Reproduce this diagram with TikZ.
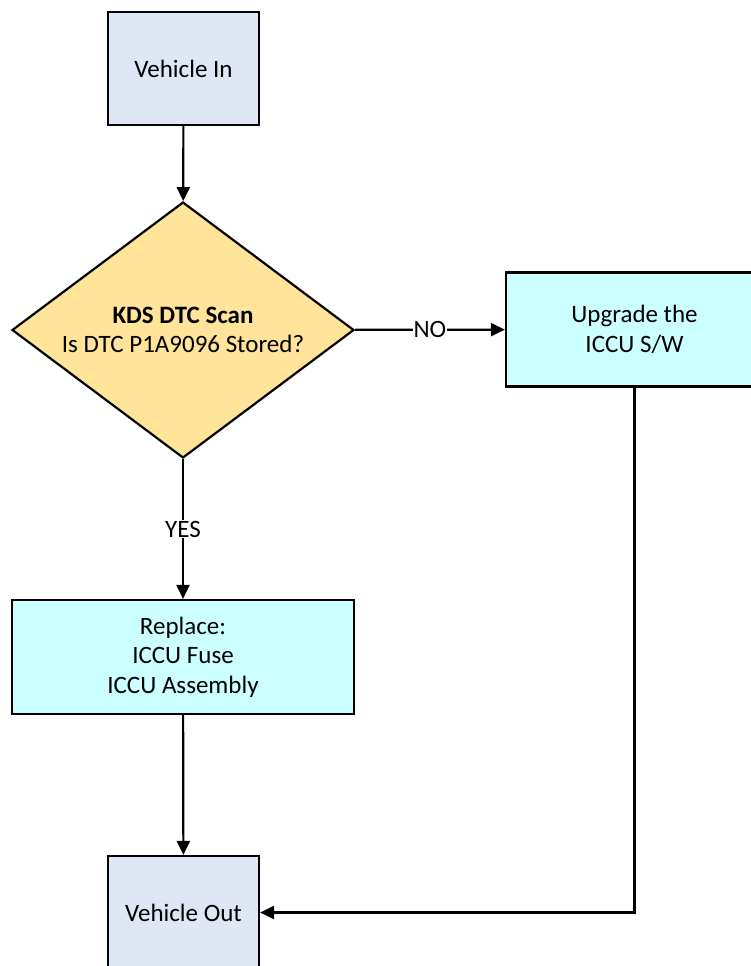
\documentclass[tikz,border=0pt]{standalone}
\usepackage{fontspec}
\setmainfont{Carlito}
\usetikzlibrary{shapes.geometric,arrows.meta}
\definecolor{termfill}{HTML}{DEE7F3}
\definecolor{decfill}{HTML}{FFE499}
\definecolor{procfill}{HTML}{CCFFFF}
\tikzset{
  base/.style={draw=black, line width=2.2pt, font=\fontsize{25}{29.5}\selectfont, align=center, inner sep=0pt},
  term/.style={base, rectangle, fill=termfill, minimum width=151pt, minimum height=113pt},
  proc/.style={base, rectangle, fill=procfill, minimum height=114pt},
  dec/.style={base, diamond, fill=decfill, minimum width=342pt, minimum height=256pt, aspect=1.336},
  conn/.style={draw=black, line width=2.2pt, -{Triangle[length=14pt,width=13pt]}},
  lbl/.style={fill=white, font=\fontsize{25}{29.5}\selectfont, inner sep=1pt}
}
\begin{document}
\begin{tikzpicture}[x=1pt,y=-1pt]
\useasboundingbox (0,0) rectangle (751,966);
\node[term] (in) at (183.5,68.5) {Vehicle In};
\node[dec] (scan) at (183,330) {\textbf{KDS DTC Scan}\\Is DTC P1A9096 Stored?};
\node[proc, minimum width=257pt] (upg) at (634.5,329.5) {Upgrade the\\ICCU S/W};
\node[proc, minimum width=342pt] (rep) at (183,657) {Replace:\\ICCU Fuse\\ICCU Assembly};
\node[term] (out) at (183.5,912.5) {Vehicle Out};
\draw[conn] (in) -- (scan);
\draw[conn] (scan) -- node[lbl] {NO} (upg);
\draw[conn] (scan) -- node[lbl] {YES} (rep);
\draw[conn] (rep) -- (out);
\draw[conn] (upg.south) |- (out.east);
\end{tikzpicture}
\end{document}
